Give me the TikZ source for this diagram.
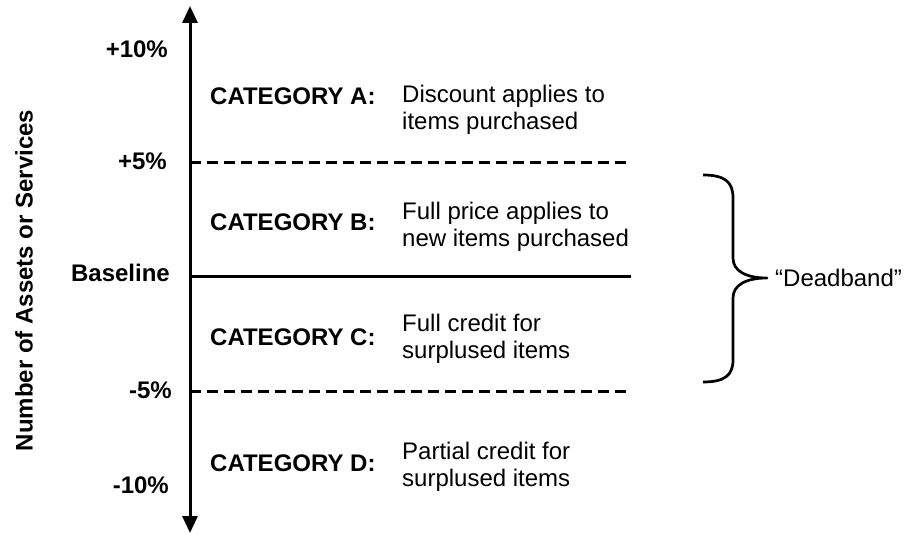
\documentclass[tikz,border=0pt]{standalone}
\usepackage{fontspec}
\setmainfont{Liberation Sans}
\usetikzlibrary{arrows.meta}
\begin{document}
\begin{tikzpicture}[x=1pt,y=-1pt,
  txt/.style={font=\fontsize{24}{27.5}\selectfont, inner sep=0pt},
  lbl/.style={font=\fontsize{24}{27.5}\selectfont\bfseries, inner sep=0pt},
  pct/.style={lbl, anchor=base east},
  cat/.style={lbl, anchor=base west},
  desc/.style={txt, align=left, anchor=base west},
  axisline/.style={line width=3pt, {Triangle[width=15pt,length=17pt]}-{Triangle[width=15pt,length=17pt]}},
  band/.style={line width=2.7pt, dash pattern=on 11pt off 6pt},
  solidline/.style={line width=3pt},
  bracestyle/.style={line width=2.7pt, line join=round}]
\useasboundingbox (0,0) rectangle (911,535);

% axis
\coordinate (axtop) at (190,6);
\coordinate (axbot) at (190,533);
\draw[axisline] (axbot) -- (axtop);

% horizontal lines
\coordinate (p5L) at (190,162.5);  \coordinate (p5R) at (631,162.5);
\coordinate (p0L) at (190,276);    \coordinate (p0R) at (631,276);
\coordinate (m5L) at (190,391.5);  \coordinate (m5R) at (631,391.5);
\draw[band] (p5L) -- (p5R);
\draw[solidline] (p0L) -- (p0R);
\draw[band] (m5L) -- (m5R);

% axis labels
\node[pct] (p10) at (168,58) {+10\%};
\node[pct] (p5) at (167,169) {+5\%};
\node[pct] (base) at (170,281) {Baseline};
\node[pct] (m5) at (172,398) {-5\%};
\node[pct] (m10) at (169,493) {-10\%};

\node[lbl, rotate=90] (ylab) at (24,280.5) {Number of Assets or Services};

% categories (desc anchored at the baseline of its second line)
\node[cat] (ca) at (210,105) {CATEGORY A:};
\node[desc] (da) at (402,129.5) {Discount applies to\\items purchased};
\node[cat] (cb) at (210,230) {CATEGORY B:};
\node[desc] (db) at (402,246.5) {Full price applies to\\new items purchased};
\node[cat] (cc) at (210,345) {CATEGORY C:};
\node[desc] (dc) at (402,358.5) {Full credit for\\surplused items};
\node[cat] (cd) at (210,471) {CATEGORY D:};
\node[desc] (dd) at (402,486.5) {Partial credit for\\surplused items};

% brace
\coordinate (bt) at (703,175);
\coordinate (btip) at (767,278);
\coordinate (bb) at (703,382);
\draw[bracestyle] (bt) .. controls (725,175) and (733,182) .. (733,198)
  -- (733,258) .. controls (733,271) and (746,278) .. (btip)
  .. controls (746,278) and (733,285) .. (733,298)
  -- (733,360) .. controls (733,375) and (725,382) .. (bb);

\node[txt, anchor=base west] (dead) at (775,286.5) {“Deadband”};
\end{tikzpicture}
\end{document}
